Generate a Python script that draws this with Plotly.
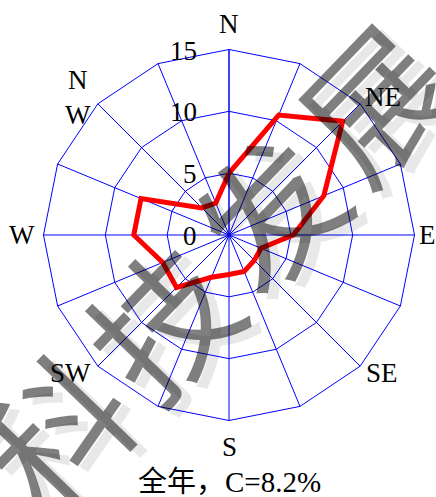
import math
import plotly.graph_objects as go

# 16-point wind directions, clockwise from north
directions = ["N", "NNE", "NE", "ENE", "E", "ESE", "SE", "SSE",
              "S", "SSW", "SW", "WSW", "W", "WNW", "NW", "NNW"]
# annual wind-direction frequency (%)
frequency = [5.0, 10.5, 13.0, 8.3, 5.2, 2.8, 2.9, 3.2,
             3.2, 3.7, 6.0, 5.8, 7.7, 7.7, 3.1, 2.8]

# compass labels shown around the rose
label_text = ["N", "NE", "E", "SE", "S", "SW", "W", "N<br>W"]

radial_ticks = [0, 5, 10, 15]
caption = "全年，C=8.2%"
watermark = "科技发展"

W, H = 436, 497
cx, cy, R = 229, 235, 185.5   # rose centre and outer radius in pixels
RMAX = 15
GRID = "#0000ff"

serif = "Liberation Serif, Times New Roman, Noto Sans CJK SC"

fig = go.Figure()
fig.add_trace(go.Scatterpolar(
    r=frequency + frequency[:1],
    theta=directions + directions[:1],
    mode="lines",
    line=dict(color="#ff0000", width=5),
    hoverinfo="none",
    showlegend=False,
))

fig.update_layout(
    width=W, height=H,
    margin=dict(l=0, r=0, t=0, b=0),
    paper_bgcolor="white",
    plot_bgcolor="white",
    showlegend=False,
    dragmode=False,
    hovermode=False,
    polar=dict(
        domain=dict(x=[(cx - R) / W, (cx + R) / W],
                    y=[(H - cy - R) / H, (H - cy + R) / H]),
        gridshape="linear",
        bgcolor="white",
        angularaxis=dict(
            type="category",
            categoryarray=directions,
            rotation=90,
            direction="clockwise",
            showticklabels=False,
            ticks="",
            ticklen=0,
            tickcolor=GRID,
            showgrid=True,
            gridcolor=GRID,
            gridwidth=1,
            showline=True,
            linecolor=GRID,
            linewidth=1,
        ),
        radialaxis=dict(
            range=[0, RMAX],
            tickvals=radial_ticks,
            angle=90,
            showline=True,
            linecolor=GRID,
            linewidth=1,
            showticklabels=False,
            ticks="",
            ticklen=0,
            tickcolor=GRID,
            showgrid=True,
            gridcolor=GRID,
            gridwidth=1,
        ),
    ),
)

# compass labels around the outer ring (pixel offsets from the centre)
label_offset = [(0, -211), (154, -138), (198, 0), (153, 138),
                (0, 212), (-159, 138), (-207, 0), (-151, -137)]
for txt, (ox, oy) in zip(label_text, label_offset):
    fig.add_annotation(
        x=(cx + ox) / W, y=1 - (cy + oy) / H, xref="paper", yref="paper",
        text=txt, showarrow=False, xanchor="center", yanchor="middle",
        font=dict(family=serif, size=27, color="black"),
        align="center",
    )

# radial scale labels to the left of the north spoke
for v in radial_ticks:
    py = cy - v * R / RMAX + 1
    fig.add_annotation(
        x=199 / W, y=1 - py / H, xref="paper", yref="paper",
        text=str(v), showarrow=False, xanchor="right", yanchor="middle",
        font=dict(family=serif, size=27, color="black"),
    )

# caption under the rose
fig.add_annotation(
    x=cx / W, y=1 - 482 / H, xref="paper", yref="paper",
    text=caption, showarrow=False, xanchor="center", yanchor="middle",
    font=dict(family=serif, size=29, color="black"),
)

# diagonal watermark, one glyph at a time, with a faint shadow
x0, y0, step_x, step_y = 52, 428, 106, -110
for i, ch in enumerate(watermark):
    gx, gy = x0 + i * step_x, y0 + i * step_y
    for dx, dy, col in [(10, 6, "rgba(0,0,0,0.09)"), (0, 0, "rgba(0,0,0,0.5)")]:
        fig.add_annotation(
            x=(gx + dx) / W, y=1 - (gy + dy) / H, xref="paper", yref="paper",
            text=ch, showarrow=False, textangle=-46,
            xanchor="center", yanchor="middle",
            borderwidth=0, bgcolor="rgba(0,0,0,0)",
            font=dict(family="Noto Sans CJK SC", size=142, color=col),
        )

# static page: no interactive drag/zoom layers
fig.write_html("out.html", config={"staticPlot": True})
